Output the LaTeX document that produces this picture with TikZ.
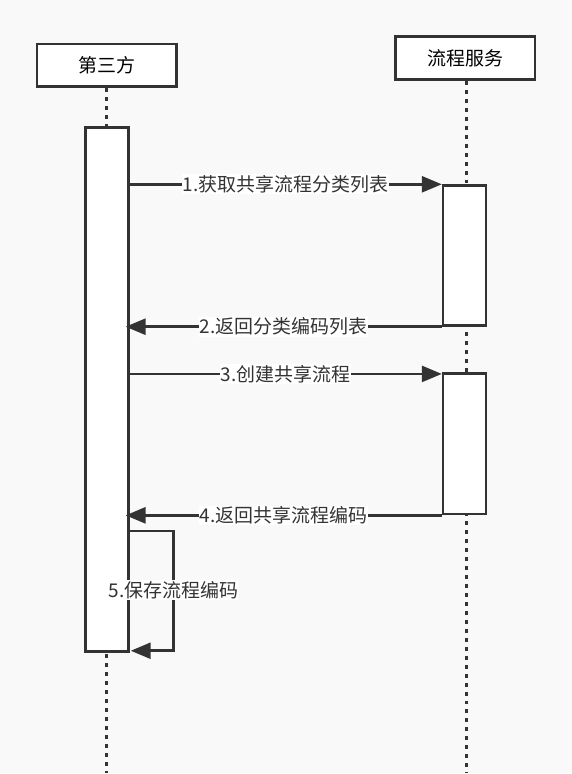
\documentclass[tikz,border=0pt]{standalone}
\usepackage{fontspec}
\setmainfont{Noto Sans CJK SC}
\usetikzlibrary{arrows.meta}
\definecolor{bg}{HTML}{F9F9F9}
\definecolor{ln}{HTML}{333333}
\begin{document}
\begin{tikzpicture}[x=1pt,y=-1pt,draw=ln,line width=2.7pt,
  actor/.style={draw,fill=white,minimum width=140pt,minimum height=43pt,inner sep=0pt,font=\fontsize{19}{21}\selectfont},
  bar/.style={draw,fill=white,minimum width=43pt,inner sep=0pt},
  life/.style={line width=3pt,dash pattern=on 4pt off 5pt},
  msg/.style={-{Triangle[length=20pt,width=16pt]}},
  lbl/.style={fill=white,inner sep=1pt,text=ln,font=\fontsize{19}{21}\selectfont}]
        \fill[bg] (0,0) rectangle (573,774);
        % lifelines
        \node[actor] (tp) at (107,65.5) {第三方};
        \node[actor] (svc) at (466,58) {流程服务};
        \coordinate (tpend) at (107,774);
        \coordinate (svcend) at (467,774);
        \draw[life] (tp.south) -- (tpend);
        \draw[life] (svc.south-|svcend) -- (svcend);
        % activations
        \node[bar,minimum height=140pt] (a1) at (465.5,256) {};
        \node[bar,minimum height=141pt] (a2) at (465.5,444.5) {};
        \node[bar,minimum height=525pt] (act) at (107,390.5) {};
        % messages
        \draw[msg] (act.east|-a1.north west) -- node[lbl] {1.获取共享流程分类列表} (a1.north west);
        \draw[msg] (a1.south west) -- node[lbl] {2.返回分类编码列表} ([xshift=-4pt]act.east|-a1.south west);
        \draw[msg] ([yshift=-2pt]act.east|-a2.north west) -- node[lbl] {3.创建共享流程} ([yshift=-2pt]a2.north west);
        \draw[msg] (a2.south west) -- node[lbl] {4.返回共享流程编码} ([xshift=-4pt]act.east|-a2.south west);
        % self call
        \coordinate (s5) at (129,532);
        \coordinate (e5) at (131,652);
        \draw[msg] (s5) -| (174,592) |- (e5);
        \node[lbl] (l5) at (174,591) {5.保存流程编码};
      \end{tikzpicture}
\end{document}
